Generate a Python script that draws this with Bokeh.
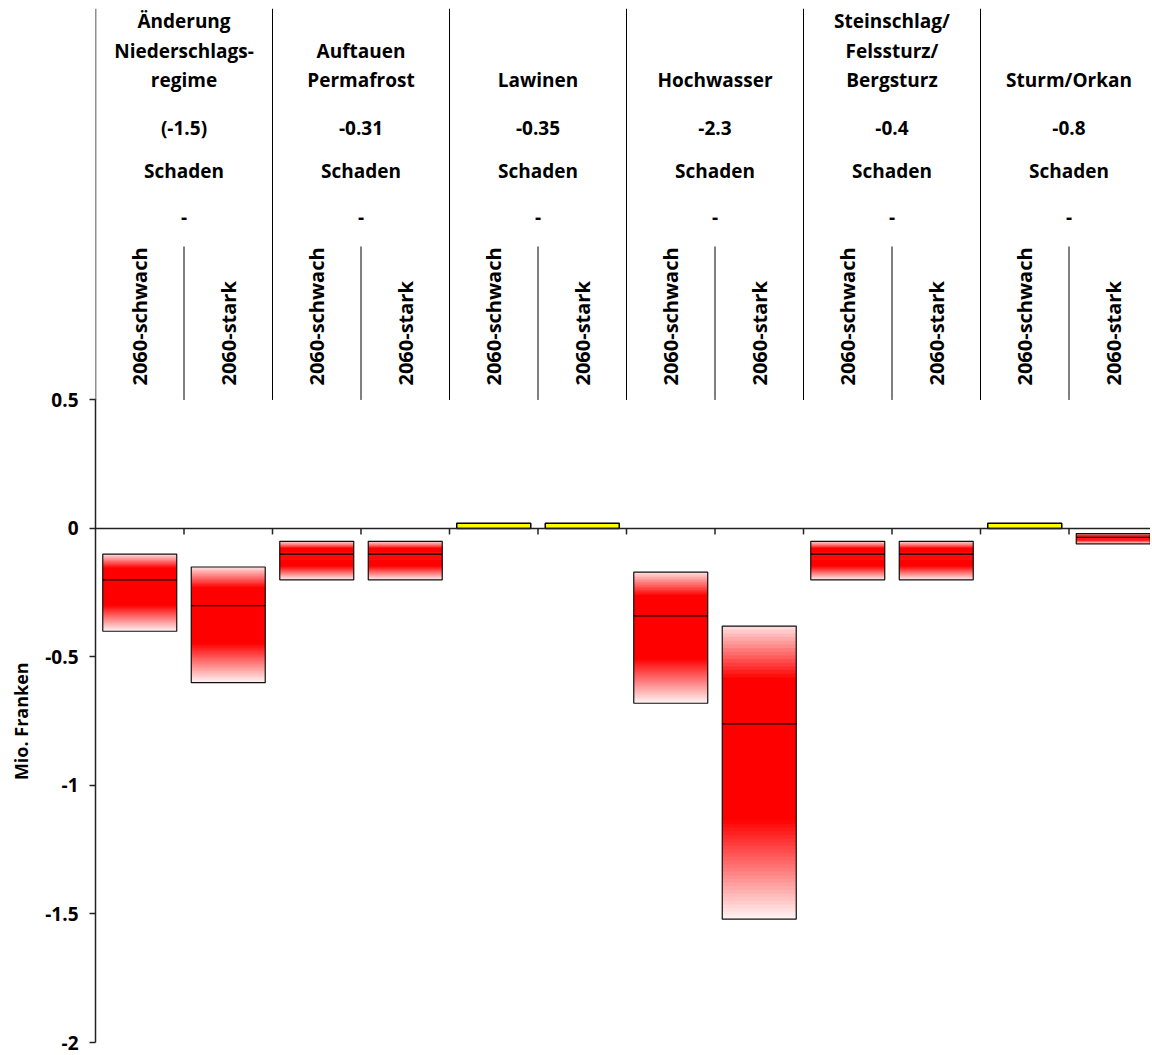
import numpy as np
from bokeh.plotting import figure
from bokeh.layouts import row
from bokeh.models import FixedTicker, Span
from bokeh.core.properties import value
from bokeh.embed import file_html
from bokeh.resources import INLINE

# ---------------- data ----------------
group_names = [["Änderung", "Niederschlags-", "regime"],
               ["Auftauen", "Permafrost"],
               ["Lawinen"],
               ["Hochwasser"],
               ["Steinschlag/", "Felssturz/", "Bergsturz"],
               ["Sturm/Orkan"]]
group_values = ["(-1.5)", "-0.31", "-0.35", "-2.3", "-0.4", "-0.8"]
group_kind = ["Schaden"] * 6
group_dash = ["-"] * 6
scenarios = ["2060-schwach", "2060-stark"]

bar_low = [-0.40, -0.60, -0.20, -0.20, 0.00, 0.00, -0.68, -1.52, -0.20, -0.20, 0.00, -0.06]
bar_mid = [-0.20, -0.30, -0.10, -0.10, np.nan, np.nan, -0.34, -0.76, -0.10, -0.10, np.nan, -0.035]
bar_high = [-0.10, -0.15, -0.05, -0.05, 0.02, 0.02, -0.17, -0.38, -0.05, -0.05, 0.02, -0.02]

yticks = [0.5, 0, -0.5, -1, -1.5, -2]
ytick_labels = ["0.5", "0", "-0.5", "-1", "-1.5", "-2"]
y_title = "Mio. Franken"

# ---------------- layout ----------------
FONT = "Open Sans"
FS = "19px"
PXU = 257.0          # pixels per unit
CW = 88.5            # pixels per category
Y0, Y1 = -2.0, 2.023
n_cat = len(bar_low)
x_end = (1152 - 97) / CW
BW = 0.836
TOP, BOT = 8, 13
LABW = 40

p = figure(width=1150 - LABW, height=1055, output_backend="svg", toolbar_location=None,
           x_range=(0, x_end), y_range=(Y0, Y1), x_axis_location=None,
           min_border_left=95 - LABW, min_border_top=TOP, min_border_bottom=BOT, min_border_right=0)
p.xgrid.visible = False
p.ygrid.visible = False
p.outline_line_color = None

ax = p.yaxis[0]
ax.bounds = (-2, 0.5)
ax.ticker = FixedTicker(ticks=yticks)
ax.major_label_overrides = {float(t): l for t, l in zip(yticks, ytick_labels)}
ax.minor_tick_line_color = None
ax.major_tick_in = 0
ax.major_tick_out = 6
ax.major_label_standoff = 11
ax.axis_line_width = 1.5
ax.axis_line_color = "#222222"
ax.major_tick_line_color = "#222222"
ax.major_tick_line_width = 1.5
ax.major_label_text_font = FONT
ax.major_label_text_font_style = "bold"
ax.major_label_text_font_size = FS
ax.major_label_text_color = "black"

# y-axis title in a narrow side figure sharing the y range
lab = figure(width=LABW, height=1055, output_backend="svg", toolbar_location=None,
             x_range=(0, 1), y_range=p.y_range, x_axis_location=None, y_axis_location=None,
             min_border_left=0, min_border_right=0, min_border_top=TOP, min_border_bottom=BOT)
lab.xgrid.visible = False
lab.ygrid.visible = False
lab.outline_line_color = None
lab.text(x=[0.5], y=[(yticks[0] + yticks[-1]) / 2], text=[y_title], angle=np.pi / 2,
         text_align="center", text_baseline="middle", text_font=value(FONT),
         text_font_style="bold", text_font_size="18px", text_color="black")

centers = np.arange(n_cat) + 0.5

# ----- gradient bars -----
N = 80
ql, qr, qt, qb, qc = [], [], [], [], []
yl, yr, yt, yb = [], [], [], []
for i in range(n_cat):
    lo, hi = bar_low[i], bar_high[i]
    if hi > 0:
        yl.append(centers[i] - BW / 2); yr.append(centers[i] + BW / 2)
        yt.append(hi); yb.append(lo)
        continue
    edges = np.linspace(hi, lo, N + 1)
    for k in range(N):
        t = (k + 0.5) / N
        if t < 0.18:
            a = 0.12 + 0.88 * (t / 0.18)
        elif t > 0.66:
            a = 1.0 - 0.96 * ((t - 0.66) / 0.34)
        else:
            a = 1.0
        gb = int(round(255 * (1 - a)))
        ql.append(centers[i] - BW / 2); qr.append(centers[i] + BW / 2)
        qt.append(edges[k]); qb.append(edges[min(k + 2, N)])
        qc.append("#ff%02x%02x" % (gb, gb))

p.quad(left=ql, right=qr, top=qt, bottom=qb, fill_color=qc, line_color=None)
p.quad(left=yl, right=yr, top=yt, bottom=yb, fill_color="#ffff00", line_color="black", line_width=1.5)

red_idx = [i for i in range(n_cat) if bar_high[i] <= 0]
p.quad(left=[centers[i] - BW / 2 for i in red_idx], right=[centers[i] + BW / 2 for i in red_idx],
       top=[bar_high[i] for i in red_idx], bottom=[bar_low[i] for i in red_idx],
       fill_color=None, line_color="#111111", line_width=1.2)
mid_idx = [i for i in range(n_cat) if not np.isnan(bar_mid[i])]
p.segment(x0=[centers[i] - BW / 2 for i in mid_idx], x1=[centers[i] + BW / 2 for i in mid_idx],
          y0=[bar_mid[i] for i in mid_idx], y1=[bar_mid[i] for i in mid_idx],
          line_color="black", line_width=1.2)

# ----- zero line & ticks -----
p.add_layout(Span(location=0, dimension="width", line_color="#222222", line_width=1.5))
bnd = list(range(1, n_cat))
p.segment(x0=bnd, x1=bnd, y0=[0] * len(bnd), y1=[-6 / PXU] * len(bnd),
          line_color="#222222", line_width=1.5)

# ----- header dividers -----
p.segment(x0=[0], x1=[0], y0=[0.5], y1=[Y1], line_color="#222222", line_width=1.5)
gb_x = list(range(2, n_cat, 2))
p.segment(x0=gb_x, x1=gb_x, y0=[0.5] * len(gb_x), y1=[Y1] * len(gb_x), line_color="black", line_width=1)
sb_x = list(range(1, n_cat, 2))
p.segment(x0=sb_x, x1=sb_x, y0=[0.5] * len(sb_x), y1=[1.097] * len(sb_x), line_color="black", line_width=1)

# ----- header texts -----
gcent = np.arange(len(group_names)) * 2 + 1.0
tx, ty, tt = [], [], []
for g, lines in enumerate(group_names):
    nl = len(lines)
    for j, s in enumerate(lines):
        tx.append(gcent[g]); ty.append(1.745 + (nl - 1 - j) * 0.114); tt.append(s)
    tx += [gcent[g]] * 3
    ty += [1.560, 1.390, 1.212]
    tt += [group_values[g], group_kind[g], group_dash[g]]
p.text(x=tx, y=ty, text=tt, text_align="center", text_baseline="middle",
       text_font=value(FONT), text_font_style="bold", text_font_size=FS, text_color="black")

sx = list(centers)
st = [scenarios[i % 2] for i in range(n_cat)]
p.text(x=sx, y=[0.556] * n_cat, text=st, angle=np.pi / 2, text_align="left", text_baseline="middle",
       text_font=value(FONT), text_font_style="bold", text_font_size="20px", text_color="black")

layout = row(lab, p, spacing=0)
open("out.html", "w").write(file_html(layout, INLINE))
